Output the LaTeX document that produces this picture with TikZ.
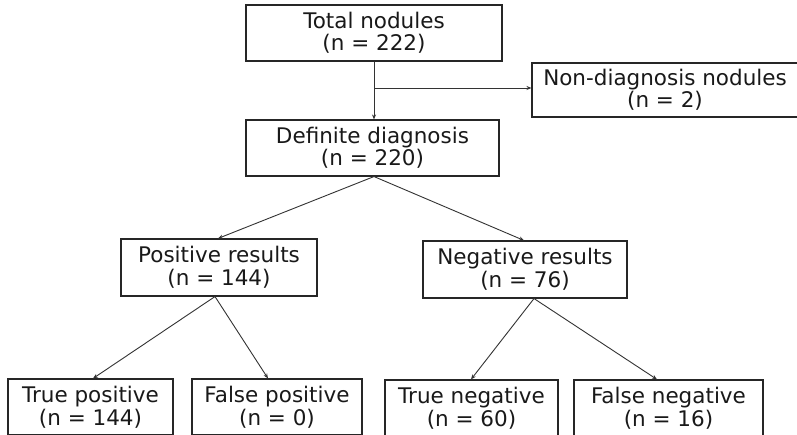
\documentclass[tikz,border=0pt]{standalone}
\usepackage{fontspec}
\setmainfont{DejaVu Sans}
\usetikzlibrary{arrows.meta,calc}
\begin{document}
\begin{tikzpicture}[x=1pt,y=-1pt,
  box/.style={draw=black!85,line width=1.1pt,rectangle,inner sep=0pt,align=center,
    font=\fontsize{21.5}{22.5}\selectfont,text=black!90},
  conn/.style={draw=black!80,line width=0.9pt,-{Stealth[length=5pt,width=4pt]}}]
\clip (0,0) rectangle (797,435);
\fill[white] (0,0) rectangle (797,435);
\node[box,minimum width=256pt,minimum height=56pt] (tot) at (374,33) {Total nodules\\(n = 222)};
\node[box,minimum width=266pt,minimum height=54pt] (nd) at (665,90) {Non-diagnosis nodules\\(n = 2)};
\node[box,minimum width=253pt,minimum height=56pt] (def) at (372.5,148) {Definite diagnosis\\(n = 220)};
\node[box,minimum width=196pt,minimum height=57pt] (pos) at (219,267.5) {Positive results\\(n = 144)};
\node[box,minimum width=204pt,minimum height=57pt] (neg) at (525,269.5) {Negative results\\(n = 76)};
\node[box,minimum width=165pt,minimum height=56pt] (tp) at (90.5,407) {True positive\\(n = 144)};
\node[box,minimum width=170pt,minimum height=56pt] (fp) at (277,407) {False positive\\(n = 0)};
\node[box,minimum width=173pt,minimum height=56pt] (tn) at (471.5,408) {True negative\\(n = 60)};
\node[box,minimum width=189pt,minimum height=56pt] (fn) at (668.5,408) {False negative\\(n = 16)};
\draw[conn] (tot.south) -- (def.north -| tot.south);
\coordinate (j) at (374,88);
\draw[conn] (j) -- (j -| nd.west);
\draw[conn] ([xshift=1.5pt]def.south) -- ([xshift=-1pt]pos.north);
\draw[conn] ([xshift=1.5pt]def.south) -- ([xshift=-1pt]neg.north);
\draw[conn] ([xshift=-4pt]pos.south) -- ([xshift=2.5pt]tp.north);
\draw[conn] ([xshift=-4pt]pos.south) -- ([xshift=-9pt]fp.north);
\draw[conn] ([xshift=9pt]neg.south) -- ([xshift=-0.5pt]tn.north);
\draw[conn] ([xshift=9pt]neg.south) -- ([xshift=-11.5pt]fn.north);
\end{tikzpicture}
\end{document}
